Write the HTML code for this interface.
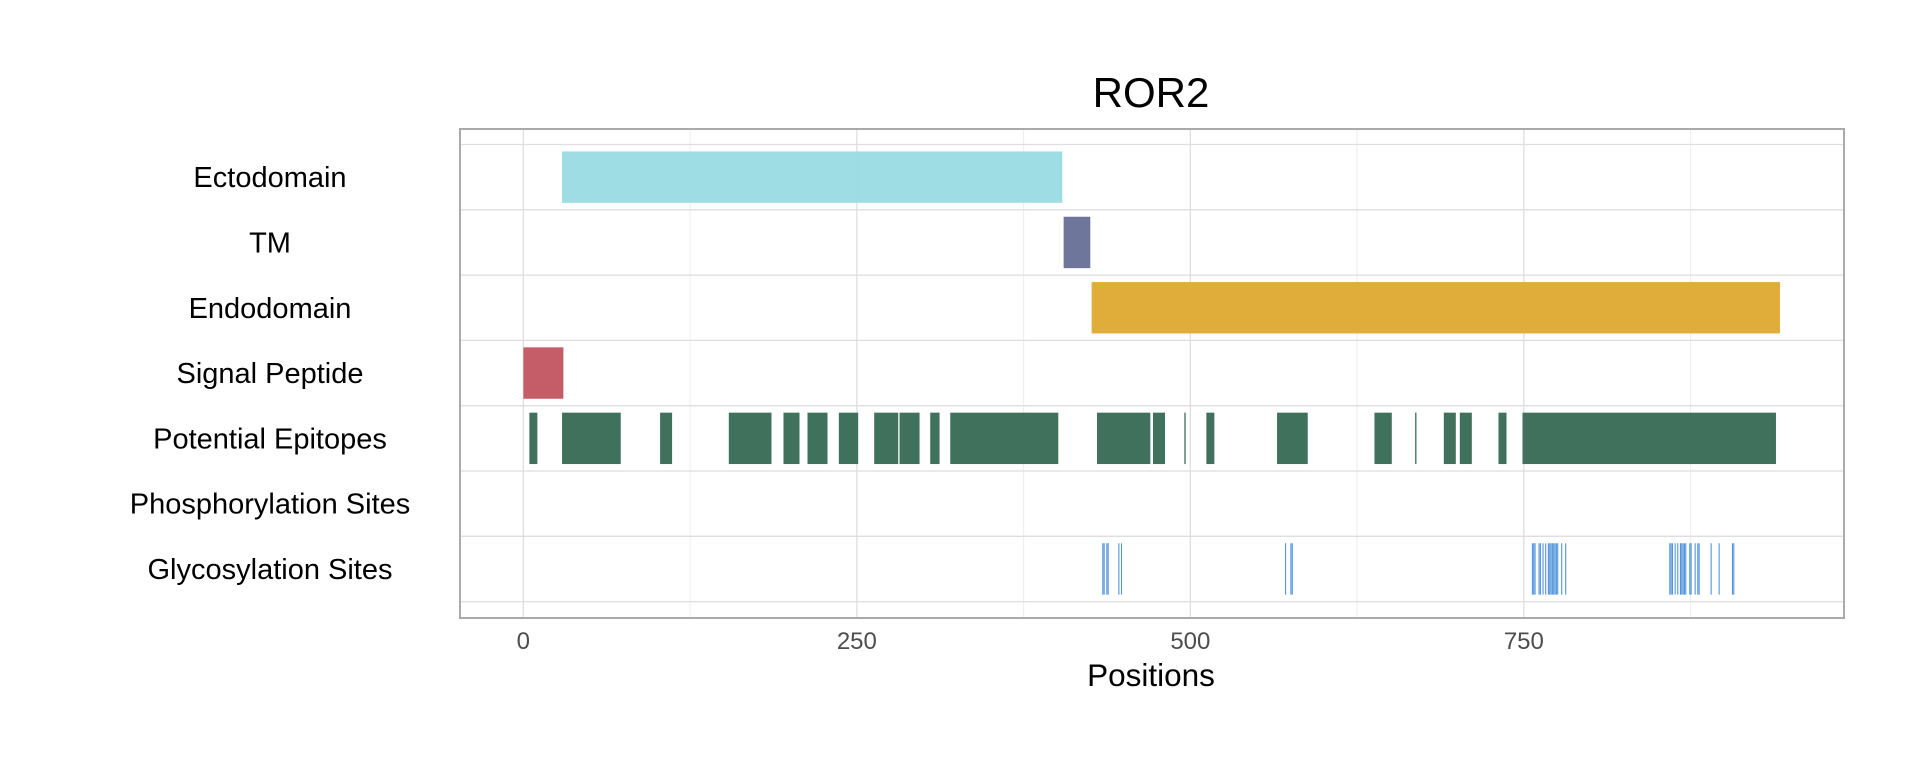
<!DOCTYPE html>
<html><head><meta charset="utf-8"><style>
html,body{margin:0;padding:0;background:#fff;}
svg{display:block;font-family:"Liberation Sans",Arial,sans-serif;}
</style></head><body>
<svg id="chart" width="1920" height="768" viewBox="0 0 1920 768">
<text x="1151" y="107" font-size="42" text-anchor="middle" fill="#000">ROR2</text>
<g id="grid"></g>
<g id="marks"></g>
<g id="ylabels"></g>
<g id="xticks"></g>
<rect x="460" y="129" width="1384" height="489" fill="none" stroke="#aaaaaa" stroke-width="2"/>
<text x="1151" y="686" font-size="31.5" text-anchor="middle" fill="#000">Positions</text>
</svg>
<script>
const categories = ["Ectodomain","TM","Endodomain","Signal Peptide","Potential Epitopes","Phosphorylation Sites","Glycosylation Sites"];
const colors = ["#9adbe3","#6b7399","#dfab36","#c45a65","#3b6e5a","#3b6e5a","#4a90d9"];
const ectodomain = [[29,404]];
const tm = [[405,425]];
const endodomain = [[426,942]];
const signalPeptide = [[0,30]];
const epitopes = [[4.5,10.5],[29,73],[102.5,111.5],[154,186],[195,207],[213,228],[236.5,251],[263,281],[282,297],[305,312],[320,401],[430,470],[472,481],[495.5,496.5],[512,518],[565,588],[638,651],[668.5,669.5],[690,699],[702,711],[731,737],[749,939]];
const phosphoSites = [];
const glycoSites = [434,435,437,438,446,448,571,575,576,756,757,758,761,762,764,766,768,769,770,771,772,773,774,775,778,781,859,860,861,863,865,867,868,869,870,871,874,875,878,880,881,890,896,906,907];
const xTicks = [0,250,500,750];
const xMinor = [125,375,625,875];

const NS="http://www.w3.org/2000/svg";
const px0=460, px1=1844, dmin=-47.5, dmax=990;
function xs(v){return px0+(v-dmin)/(dmax-dmin)*(px1-px0);}
const rowTop=144.5, rowH=65.3;
function yc(i){return rowTop+rowH*(i+0.5);}
function mk(tag,attrs,parent){const e=document.createElementNS(NS,tag);for(const k in attrs)e.setAttribute(k,attrs[k]);parent.appendChild(e);return e;}
const grid=document.getElementById('grid'), marks=document.getElementById('marks'), yl=document.getElementById('ylabels'), xt=document.getElementById('xticks');
xMinor.forEach(v=>{const l=mk('line',{x1:xs(v),x2:xs(v),y1:129,y2:618,stroke:'#ececec','stroke-width':1},grid);

});
xTicks.forEach(v=>{const l=mk('line',{x1:xs(v),x2:xs(v),y1:129,y2:618,stroke:'#dedede','stroke-width':1.3},grid);


const t=mk('text',{x:xs(v),y:649,'font-size':24,'text-anchor':'middle',fill:'#4d4d4d'},xt);t.textContent=v;

});
for(let i=0;i<=categories.length;i++){const y=rowTop+rowH*i;const l=mk('line',{x1:460,x2:1844,y1:y,y2:y,stroke:'#dedede','stroke-width':1.3},grid);

}
categories.forEach((c,i)=>{const t=mk('text',{x:270,y:yc(i)+10,'font-size':29,'text-anchor':'middle',fill:'#000'},yl);t.textContent=c;

});
const series=[ectodomain,tm,endodomain,signalPeptide,epitopes,phosphoSites,glycoSites.map(s=>[s,s+0.8])];
const bh=51.4;
series.forEach((segs,i)=>{segs.forEach(s=>{const x=xs(s[0]);const w=Math.max(1,xs(s[1])-x);
const r=mk('rect',{x:x,y:yc(i)-bh/2,width:w,height:bh,fill:colors[i],'fill-opacity':i===0?0.95:0.98},marks);

});});
</script>
</body></html>
